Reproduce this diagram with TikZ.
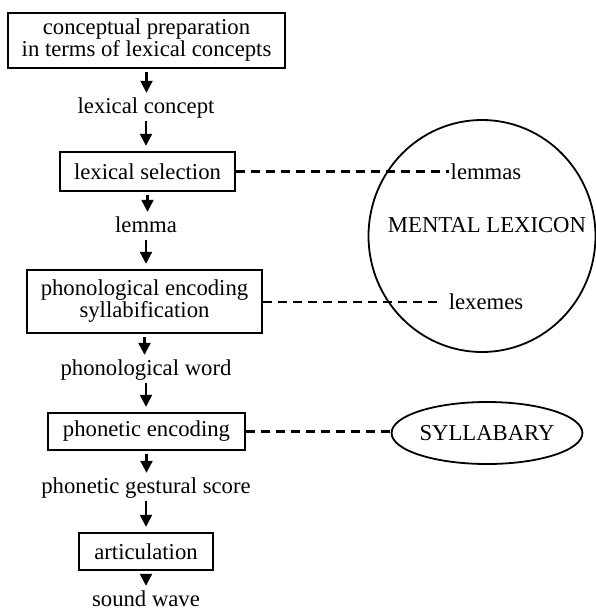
\documentclass[tikz,border=0pt]{standalone}
\usepackage{fontspec}
\setmainfont{Liberation Serif}
\usetikzlibrary{arrows.meta,shapes.geometric}
\tikzset{stage/.style = {draw, line width=2.4pt, align=center, inner sep=0pt},
  stageout/.style = {inner sep=0pt, text height=15pt, text depth=5pt},
  flow/.style = {line width=2.2pt, -{Triangle[width=12pt,length=12pt]},
    shorten <=3pt, shorten >=5pt},
  link/.style = {line width=2.4pt, dash pattern=on 9pt off 6pt},
  store/.style = {draw, ellipse, line width=1.8pt, inner sep=0pt}}

\begin{document}
\begin{tikzpicture}[x=1pt, y=-1pt, font=\fontsize{22.7}{22}\selectfont]
        \useasboundingbox (0,0) rectangle (596,614);
        \node[stage, minimum width=277pt, minimum height=55pt] (prep) at (146.5,40.5)
          {conceptual preparation\\in terms of lexical concepts};
        \node[stageout] (lexcon) at (146,108) {lexical concept};
        \node[stage, minimum width=175pt, minimum height=39pt] (lexsel) at (147.5,171.5)
          {lexical selection};
        \node[stageout] (lemma) at (146,227) {lemma};
        \node[stage, minimum width=235pt, minimum height=63pt] (phon) at (144.5,301.5)
          {phonological encoding\\syllabification};
        \node[stageout] (phonword) at (146,370) {phonological word};
        \node[stage, minimum width=197pt, minimum height=37pt] (phonenc) at (146.5,431.5)
          {phonetic encoding};
        \node[stageout] (score) at (146,488) {phonetic gestural score};
        \node[stage, minimum width=134pt, minimum height=37pt] (artic) at (146,551.5)
          {articulation};
        \node[stageout] (wave) at (146,601) {sound wave};
        \foreach \a/\b in {prep/lexcon, lexcon/lexsel, lexsel/lemma, lemma/phon,
            phon/phonword, phonword/phonenc, phonenc/score, score/artic, artic/wave}
          \draw[flow] (\a.south) -- (\a.south |- \b.north);
        \node[store, minimum width=227pt, minimum height=232pt] (lexicon) at (482,236) {};
        \node (lexname) at (487,225) {MENTAL LEXICON};
        \node[inner sep=2pt] (lemmas) at (486,171.5) {lemmas};
        \node[inner sep=7pt] (lexemes) at (486,302) {lexemes};
        \node[store, minimum width=181pt, minimum height=62pt] (syll) at (487,433) {SYLLABARY};
        \draw[link] (lexsel.east) -- (lemmas.west);
        \draw[link] (phon.east |- lexemes.west) -- (lexemes.west);
        \draw[link] (phonenc.east) -- (phonenc.east -| syll.west);
      \end{tikzpicture}
\end{document}
